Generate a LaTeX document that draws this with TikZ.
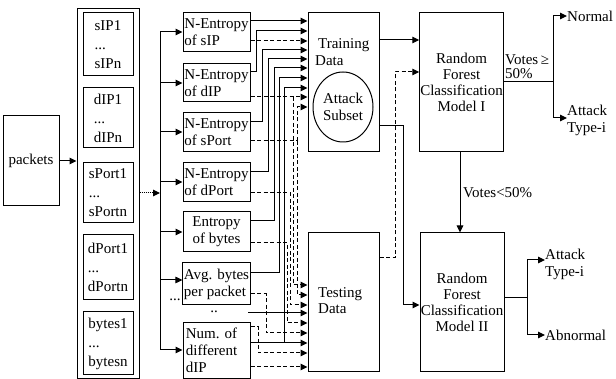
\documentclass[tikz,border=0pt]{standalone}
\usepackage{fontspec}
\setmainfont{Liberation Serif}
\usetikzlibrary{arrows.meta,shapes.geometric}
\begin{document}
\begin{tikzpicture}[x=1pt,y=-1pt,
  ln/.style={line width=1pt},
  box/.style={draw,line width=1pt,rectangle,inner sep=1.5pt},
  txt/.style={font=\fontsize{15}{17}\selectfont},
  ibox/.style={box,minimum width=50pt,align=left,font=\fontsize{15}{19}\selectfont},
  fbox/.style={box,minimum width=67pt,inner xsep=1pt,align=left,font=\fontsize{15}{17}\selectfont},
  bigbox/.style={draw,line width=1pt,rectangle,minimum width=71pt,minimum height=139pt},
  rfbox/.style={box,minimum height=139pt,align=center,inner sep=0.5pt,font=\fontsize{15}{16}\selectfont},
  arr/.style={line width=1pt,-{Triangle[length=7pt,width=6.5pt]}},
  dsh/.style={dash pattern=on 4pt off 2.5pt}]
\useasboundingbox (0,0) rectangle (616,379);

% left part
\node[box,minimum width=56pt,minimum height=90pt,txt] (packets) at (31,161) {packets};
\node[draw,line width=1pt,minimum width=62pt,minimum height=369pt] (col) at (108,193.5) {};
\node[ibox,minimum height=63pt] (isip) at (108,44.5) {sIP1\\...\\sIPn};
\node[ibox,minimum height=60pt] (idip) at (108,118) {dIP1\\...\\dIPn};
\node[ibox,minimum height=60pt] (isport) at (108,193) {sPort1\\...\\sPortn};
\node[ibox,minimum height=65pt] (idport) at (108,267.5) {dPort1\\...\\dPortn};
\node[ibox,minimum height=63pt] (ibytes) at (108,343.5) {bytes1\\...\\bytesn};
\draw[arr] (packets.east) -- (col.west |- packets.east);

% feature boxes
\node[fbox,minimum height=39pt] (fsip) at (216.5,32.5) {N-Entropy\\of sIP\hspace*{20pt}};
\node[fbox,minimum height=38pt] (fdip) at (216.5,83) {N-Entropy\\of dIP\hspace*{20pt}};
\node[fbox,minimum height=39pt] (fsport) at (216.5,132.5) {N-Entropy\\of sPort};
\node[fbox,minimum height=39pt] (fdport) at (216.5,182.5) {N-Entropy\\of dPort};
\node[fbox,minimum height=40pt,align=center] (fbytes) at (216.5,232) {Entropy\\of bytes};
\node[fbox,minimum height=42pt] (favg) at (216.5,284) {Avg. bytes\\per packet};
\node[fbox,minimum height=55pt] (fnum) at (216.5,350.5) {Num. of\hspace*{10pt}\\different\\dIP};
\node[txt,inner sep=0pt] (dots1) at (175,300) {...};
\node[txt,inner sep=0pt] (dots2) at (214,312) {..};

% bus
\coordinate (bustop) at (160,32);
\coordinate (busbot) at (160,350);
\draw[ln] (bustop) -- (busbot);
\draw[arr,densely dotted] (col.east |- 0,193) -- (160,193);
\draw[arr] (bustop) -- (fsip.west |- bustop);
\draw[arr] (160,83) -- (fdip.west |- 0,83);
\draw[arr] (160,132) -- (fsport.west |- 0,132);
\draw[arr] (160,182) -- (fdport.west |- 0,182);
\draw[arr] (160,232) -- (fbytes.west |- 0,232);
\draw[arr] (160,280) -- (favg.west |- 0,280);
\draw[arr] (busbot) -- (fnum.west |- busbot);

% data boxes
\node[bigbox] (train) at (343.5,82.5) {};
\node[txt,anchor=west,align=left,inner sep=0pt] (traintxt) at (315,52) {\hspace*{3pt}Training\\Data};
\node[draw,line width=1pt,ellipse,minimum width=60pt,minimum height=70pt,inner sep=0pt,align=center,txt] (subset) at (343,107) {Attack\\Subset};
\node[bigbox] (test) at (343.5,302.5) {};
\node[anchor=west,align=left,inner sep=0pt,font=\fontsize{15}{15.5}\selectfont] (testtxt) at (318,300.5) {Testing\\Data};

% feature -> training (solid)
\draw[arr] (fsip.east |- 0,21) -- (train.west |- 0,21);
\draw[arr] (fdip.east |- 0,72) -| (256,31) -- (train.west |- 0,31);
\draw[arr,dsh] (fsip.east |- 0,41) -- (train.west |- 0,41);
\draw[arr] (fsport.east |- 0,122) -| (262,50) -- (train.west |- 0,50);
\draw[arr] (fdport.east |- 0,172) -| (268,59) -- (train.west |- 0,59);
\draw[arr] (fbytes.east |- 0,221) -| (274,68) -- (train.west |- 0,68);
\draw[arr] (favg.east |- 0,273) -| (279,78) -- (train.west |- 0,78);
\draw[arr] (fnum.east |- 0,343) -- (test.west |- 0,343);
\draw[arr] (284,343) -- (284,88) -- (train.west |- 0,88);
% dashed ones
\draw[arr,dsh] (fdip.east |- 0,97) -- (train.west |- 0,97);
\draw[arr,dsh] (293,97) -- (293,285) -- (test.west |- 0,285);
\draw[ln,dsh] (fsport.east |- 0,141) -- (297,141);
\draw[arr,dsh] (297,141) -- (297,107) -- (train.west |- 0,107);
\draw[arr,dsh] (297,141) -- (297,295) -- (test.west |- 0,295);
\draw[arr,dsh] (fdport.east |- 0,193) -| (290,305) -- (test.west |- 0,305);
\draw[arr,dsh] (fbytes.east |- 0,243) -| (287,323) -- (test.west |- 0,323);
\coordinate (ddstart) at (248,313);
\draw[arr] (ddstart) -- (test.west |- ddstart);
\draw[arr,dsh] (favg.east |- 0,294) -| (266,333) -- (test.west |- 0,333);
\draw[arr,dsh] (fnum.east |- 0,327) -| (258,353) -- (test.west |- 0,353);
\draw[arr,dsh] (fnum.east |- 0,367) -- (test.west |- 0,367);

% classifiers
\node[rfbox,minimum width=83pt] (rf1) at (461.5,82.5) {Random\\Forest\\Classification\\Model I};
\node[rfbox,minimum width=84pt] (rf2) at (462,302.5) {Random\\Forest\\Classification\\Model II};
\draw[arr] (train.east |- 0,40) -- (rf1.west |- 0,40);
\draw[arr,dsh] (test.east |- 0,258) -- (395,258) -- (395,72) -- (rf1.west |- 0,72);
\draw[arr] (train.east |- 0,126) -- (403,126) -- (403,305) -- (rf2.west |- 0,305);
\draw[arr] (rf1.south -| 460,0) -- (rf2.north -| 460,0);
\node[txt,anchor=west,inner sep=0pt] (vlt) at (463,193) {Votes<50\%};

% outputs of model I
\coordinate (s1) at (553,82);
\draw[ln] (rf1.east |- s1) -- (s1);
\draw[ln] (553,16) -- (553,118);
\node[txt,anchor=west,inner sep=0pt] (normal) at (567,16) {Normal};
\node[txt,anchor=west,inner sep=0pt,align=left] (att1) at (567,120) {Attack\\Type-i};
\draw[arr] (553,16) -- (normal.west);
\draw[arr] (553,118) -- (att1.west |- 0,118);
\node[anchor=west,inner sep=0pt,align=left,font=\fontsize{15}{14}\selectfont] (vge) at (505,67) {Votes\,≥\\50\%};

% outputs of model II
\coordinate (s2) at (527,298);
\draw[ln] (rf2.east |- s2) -- (s2);
\draw[ln] (527,260) -- (527,335);
\node[txt,anchor=west,inner sep=0pt,align=left] (att2) at (545,264) {Attack\\Type-i};
\node[txt,anchor=west,inner sep=0pt] (abn) at (545,335) {Abnormal};
\draw[arr] (527,260) -- (att2.west |- 0,260);
\draw[arr] (527,335) -- (abn.west);
\end{tikzpicture}
\end{document}
